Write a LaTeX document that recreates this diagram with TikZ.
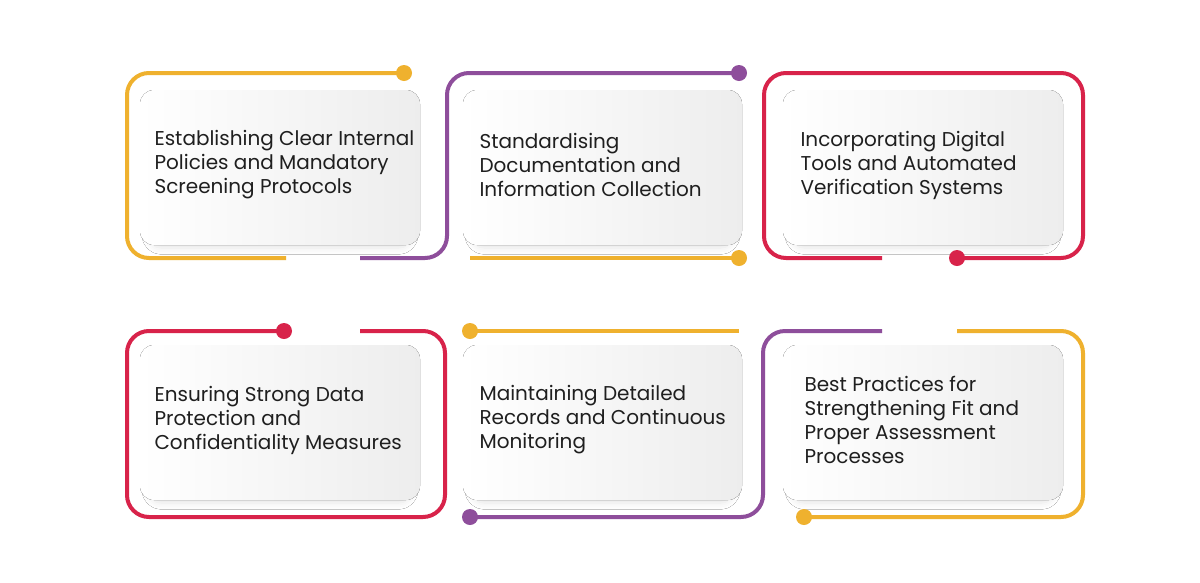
\documentclass[tikz,border=0pt]{standalone}
\usepackage{fontspec}
\setmainfont{Poppins}
\usetikzlibrary{shadows.blur}
\definecolor{cy}{HTML}{EFB12E}
\definecolor{cp}{HTML}{8E4E9B}
\definecolor{cr}{HTML}{D8234A}
\tikzset{
  card/.style={rounded corners=14pt, left color=white, right color=black!7, draw=none,
     blur shadow={shadow xshift=0pt, shadow yshift=-8pt, shadow blur radius=7pt, shadow opacity=10, shadow scale=0.94}},
  ln/.style={line width=4pt, rounded corners=22pt},
  dotc/.style={circle, fill=#1, minimum size=16pt, inner sep=0pt},
  lbl/.style={anchor=west, align=left, font=\fontsize{20}{24}\selectfont, text=black!88}
}
\begin{document}
\begin{tikzpicture}[x=1pt,y=-1pt]
\useasboundingbox[fill=white] (0,0) rectangle (1200,582);
% cards
\fill[card] (140,90) rectangle (420,245);
\fill[card] (463,90) rectangle (742,245);
\fill[card] (783,90) rectangle (1063,245);
\fill[card] (140,345) rectangle (420,500);
\fill[card] (463,345) rectangle (742,500);
\fill[card] (783,345) rectangle (1063,500);
% dots
\node[dotc=cy] (d1) at (404,73) {};
\node[dotc=cp] (d2) at (739,73) {};
\node[dotc=cy] (d3) at (739,258) {};
\node[dotc=cr] (d4) at (957,258) {};
\node[dotc=cr] (d5) at (284,331) {};
\node[dotc=cy] (d6) at (470,331) {};
\node[dotc=cp] (d7) at (470,517) {};
\node[dotc=cy] (d8) at (804,517) {};
% lines top row
\draw[ln,cy] (d1.center) -- (127,73) -- (127,258) -- (286,258);
\draw[ln,cp] (d2.center) -- (447,73) -- (447,258) -- (360,258);
\draw[ln,cy,rounded corners=0pt] (470,258) -- (d3.center);
\draw[ln,cr] (882,258) -- (764,258) -- (764,73) -- (1083,73) -- (1083,258) -- (d4.center);
% lines bottom row
\draw[ln,cr] (d5.center) -- (127,331) -- (127,517) -- (445,517) -- (445,331) -- (360,331);
\draw[ln,cy,rounded corners=0pt] (d6.center) -- (739,331);
\draw[ln,cp] (d7.center) -- (763,517) -- (763,331) -- (882,331);
\draw[ln,cy] (957,331) -- (1083,331) -- (1083,517) -- (d8.center);
% labels
\node[lbl] (t1) at (151,165) {Establishing Clear Internal\\Policies and Mandatory\\Screening Protocols};
\node[lbl] (t2) at (476,165) {Standardising\\Documentation and\\Information Collection};
\node[lbl] (t3) at (797,165) {Incorporating Digital\\Tools and Automated\\Verification Systems};
\node[lbl] (t4) at (151,420) {Ensuring Strong Data\\Protection and\\Confidentiality Measures};
\node[lbl] (t5) at (476,420) {Maintaining Detailed\\Records and Continuous\\Monitoring};
\node[lbl] (t6) at (801,420) {Best Practices for\\Strengthening Fit and\\Proper Assessment\\Processes};
\end{tikzpicture}
\end{document}
